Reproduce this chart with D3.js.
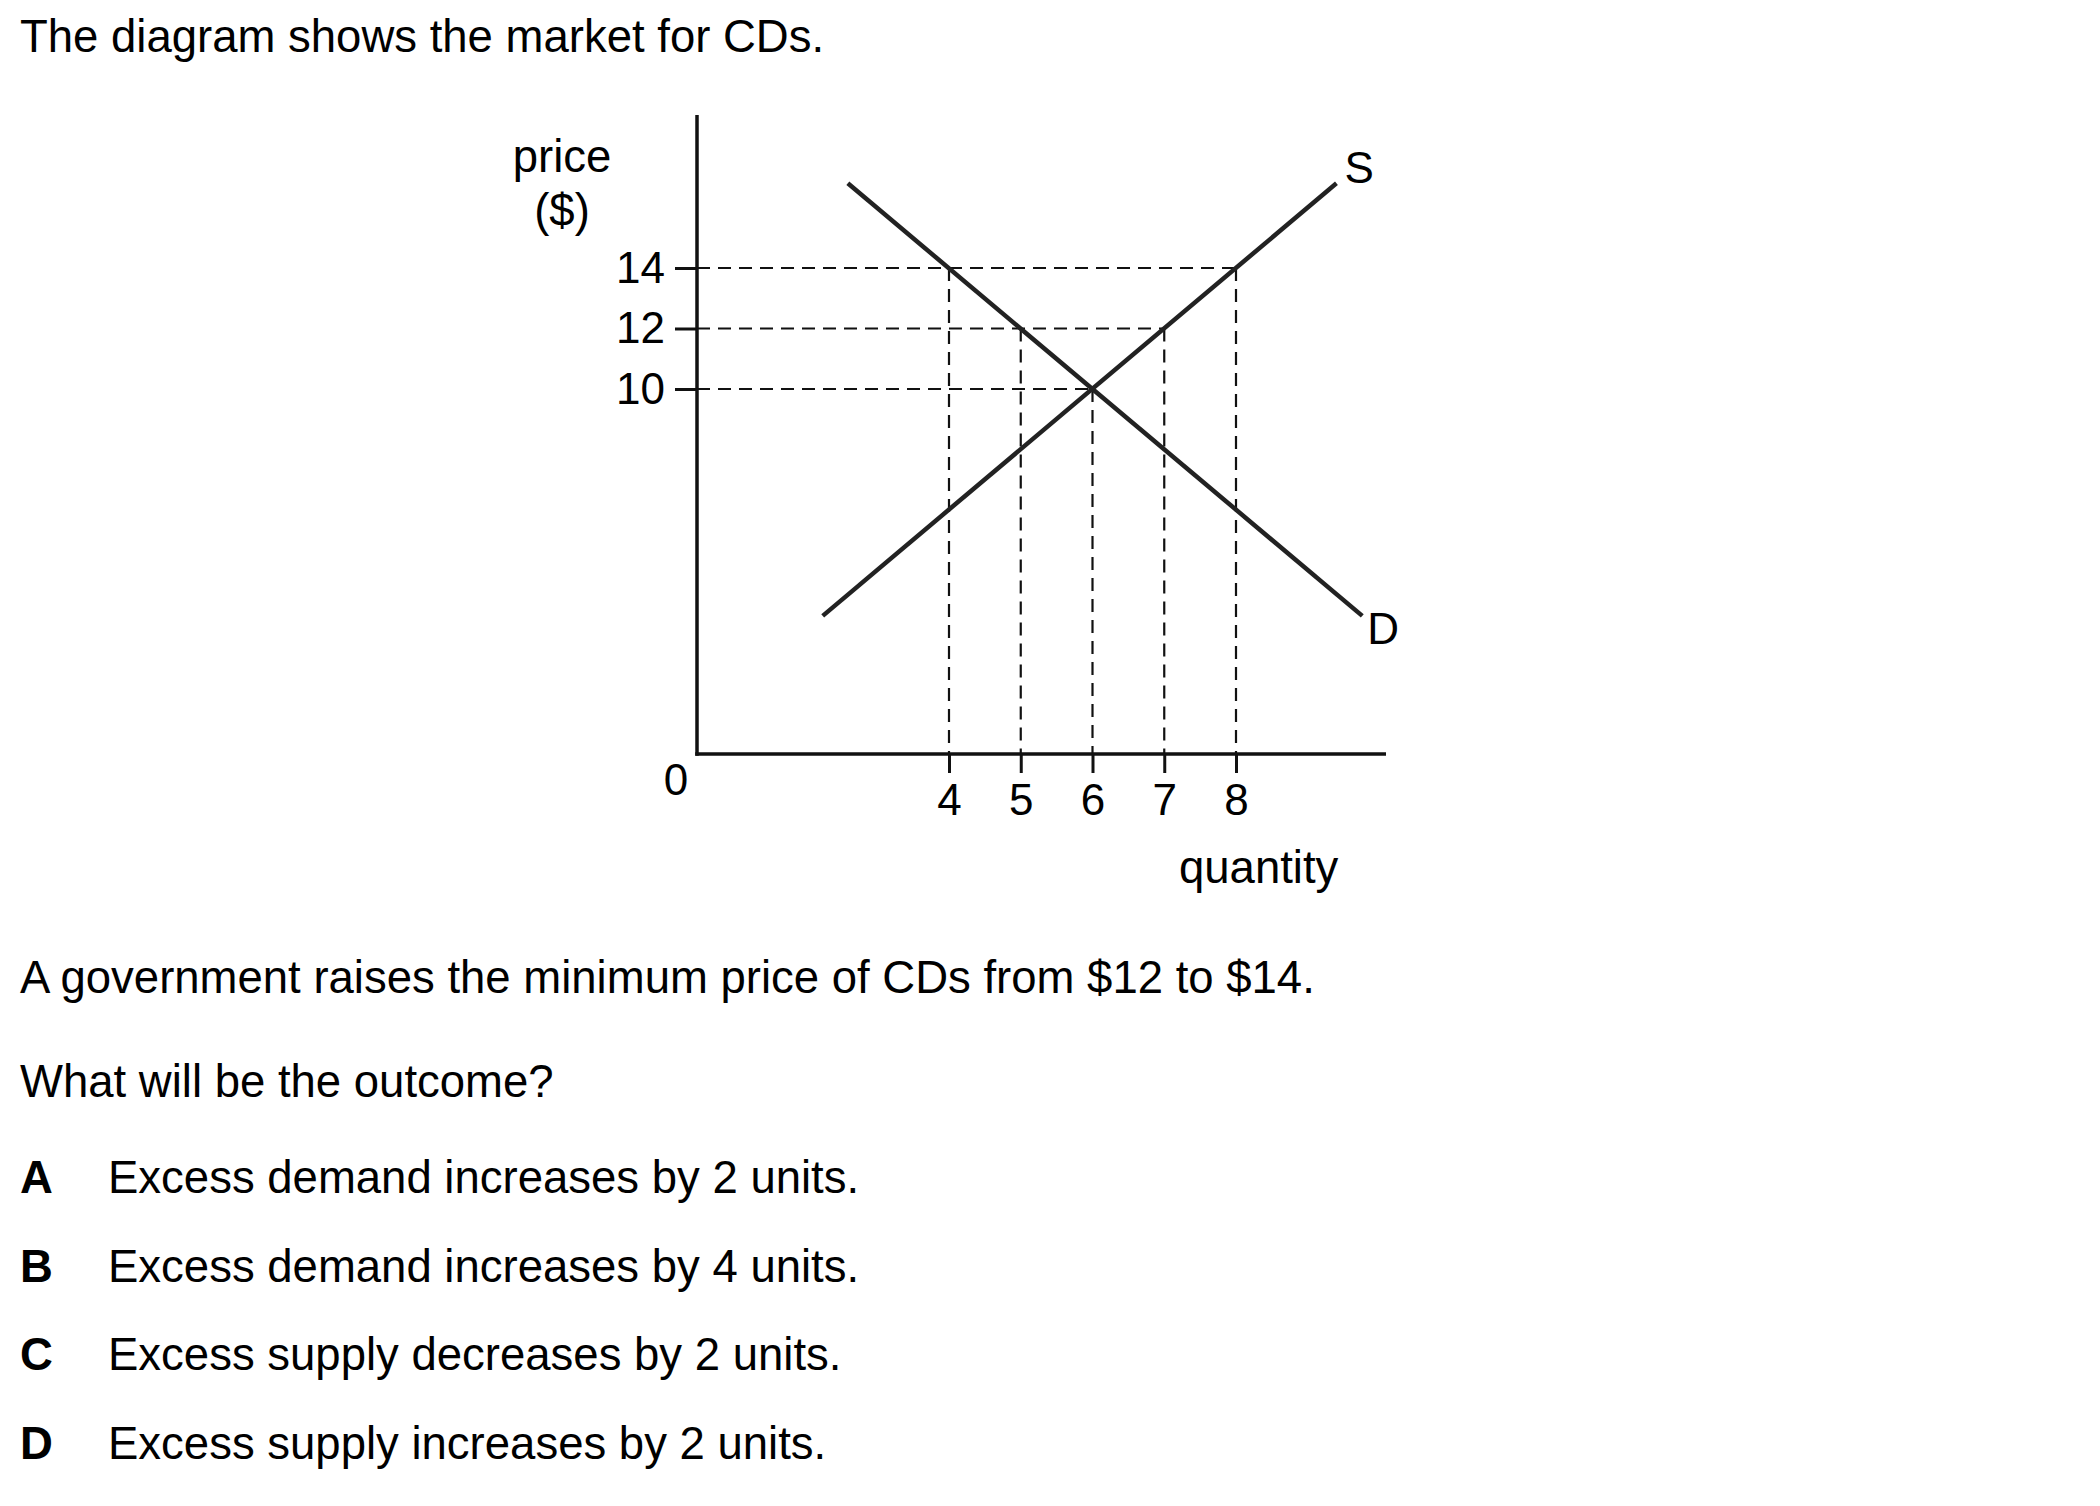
<!DOCTYPE html>
<html>
<head>
<meta charset="utf-8">
<script src="https://cdn.jsdelivr.net/npm/d3@7"></script>
<style>
  html, body { margin: 0; padding: 0; background: #fff; }
  svg { display: block; }
  text { font-family: "Liberation Sans", Arial, sans-serif; fill: #000; }
</style>
</head>
<body>
<script>
// ---------- data ----------
const priceTicks = [10, 12, 14];
const qtyTicks = [4, 5, 6, 7, 8];
// straight-line curves, endpoints (quantity, price)
const demandPts = [[2.59, 16.8], [9.76, 2.5]];
const supplyPts = [[2.24, 2.5], [9.40, 16.8]];
// dashed guide lines: price level and the quantities it meets
const guidePrices = [14, 12, 10];
const guideQtyDemand = [4, 5, 6];
const guideQtySupply = [8, 7, 6];
const curveLabels = ["S", "D"];
const introText = "The diagram shows the market for CDs.";
const questionText = "A government raises the minimum price of CDs from $12 to $14.";
const askText = "What will be the outcome?";
const optionLetters = ["A", "B", "C", "D"];
const optionTexts = [
  "Excess demand increases by 2 units.",
  "Excess demand increases by 4 units.",
  "Excess supply decreases by 2 units.",
  "Excess supply increases by 2 units."
];

// ---------- layout ----------
const W = 2100, H = 1506;
const FS = 45.5;
const AX_X = 697, AX_Y = 754, AX_TOP = 115, AX_RIGHT = 1386;

const svg = d3.select("body").append("svg")
  .attr("width", W).attr("height", H);
svg.append("rect").attr("width", W).attr("height", H).attr("fill", "#fff");

const x = d3.scaleLinear().domain([4, 8]).range([949, 1236]);
const y = d3.scaleLinear().domain([10, 14]).range([389, 268]);

// texts
svg.append("text").attr("x", 20).attr("y", 52).attr("font-size", FS).text(introText);
svg.append("text").attr("x", 20).attr("y", 993).attr("font-size", FS).text(questionText);
svg.append("text").attr("x", 20).attr("y", 1097).attr("font-size", FS).text(askText);
const optBase = [1193, 1282, 1370, 1459];
optionLetters.forEach((l, i) => {
  svg.append("text").attr("x", 20).attr("y", optBase[i]).attr("font-size", FS)
    .attr("font-weight", "bold").text(l);
  svg.append("text").attr("x", 108).attr("y", optBase[i]).attr("font-size", FS)
    .text(optionTexts[i]);
});

// dashed guides
const g = svg.append("g");
const dash = "13,8";
guidePrices.forEach((p, i) => {
  const qMax = guideQtySupply[i];
  g.append("line")
    .attr("x1", AX_X).attr("x2", x(qMax))
    .attr("y1", y(p)).attr("y2", y(p))
    .attr("stroke", "#111").attr("stroke-width", 2.2).attr("stroke-dasharray", dash);
  const qs = Array.from(new Set([guideQtyDemand[i], guideQtySupply[i]]));
  qs.forEach(q => {
    g.append("line")
      .attr("x1", x(q)).attr("x2", x(q))
      .attr("y1", y(p)).attr("y2", AX_Y)
      .attr("stroke", "#111").attr("stroke-width", 2.2).attr("stroke-dasharray", dash);
  });
});

// axes (ticks + labels via d3 axes)
const fmt = d3.format("d");
const yAxis = d3.axisLeft(y).tickValues(priceTicks).tickFormat(fmt).tickSize(22).tickPadding(10);
const yg = svg.append("g").attr("transform", `translate(${AX_X},0)`).call(yAxis);
yg.select(".domain").remove();
yg.selectAll(".tick line").attr("stroke", "#111").attr("stroke-width", 3);
yg.selectAll(".tick text").attr("font-size", 44).attr("font-family", "Liberation Sans, Arial, sans-serif").attr("fill", "#000");

const xAxis = d3.axisBottom(x).tickValues(qtyTicks).tickFormat(fmt).tickSize(19).tickPadding(11);
const xg = svg.append("g").attr("transform", `translate(0,${AX_Y})`).call(xAxis);
xg.select(".domain").remove();
xg.selectAll(".tick line").attr("stroke", "#111").attr("stroke-width", 3);
xg.selectAll(".tick text").attr("font-size", 44).attr("font-family", "Liberation Sans, Arial, sans-serif").attr("fill", "#000");

// frame axes
svg.append("line").attr("x1", AX_X).attr("x2", AX_X).attr("y1", AX_TOP).attr("y2", AX_Y + 1.75)
  .attr("stroke", "#111").attr("stroke-width", 3.5);
svg.append("line").attr("x1", AX_X - 1.75).attr("x2", AX_RIGHT).attr("y1", AX_Y).attr("y2", AX_Y)
  .attr("stroke", "#111").attr("stroke-width", 3.5);

// curves
const line = d3.line().x(d => x(d[0])).y(d => y(d[1]));
[demandPts, supplyPts].forEach(pts => {
  svg.append("path").attr("d", line(pts)).attr("fill", "none")
    .attr("stroke", "#222").attr("stroke-width", 4.5);
});

// curve labels
svg.append("text").attr("x", x(supplyPts[1][0]) + 8).attr("y", y(supplyPts[1][1]))
  .attr("font-size", 44).text(curveLabels[0]);
svg.append("text").attr("x", x(demandPts[1][0]) + 5).attr("y", y(demandPts[1][1]) + 28)
  .attr("font-size", 44).text(curveLabels[1]);

// axis titles
svg.append("text").attr("x", 562).attr("y", 172).attr("font-size", FS)
  .attr("text-anchor", "middle").text("price");
svg.append("text").attr("x", 562).attr("y", 226).attr("font-size", FS)
  .attr("text-anchor", "middle").text("($)");
svg.append("text").attr("x", 676).attr("y", 795).attr("font-size", 44)
  .attr("text-anchor", "middle").text("0");
svg.append("text").attr("x", 1179).attr("y", 883).attr("font-size", FS).text("quantity");
</script>
</body>
</html>
